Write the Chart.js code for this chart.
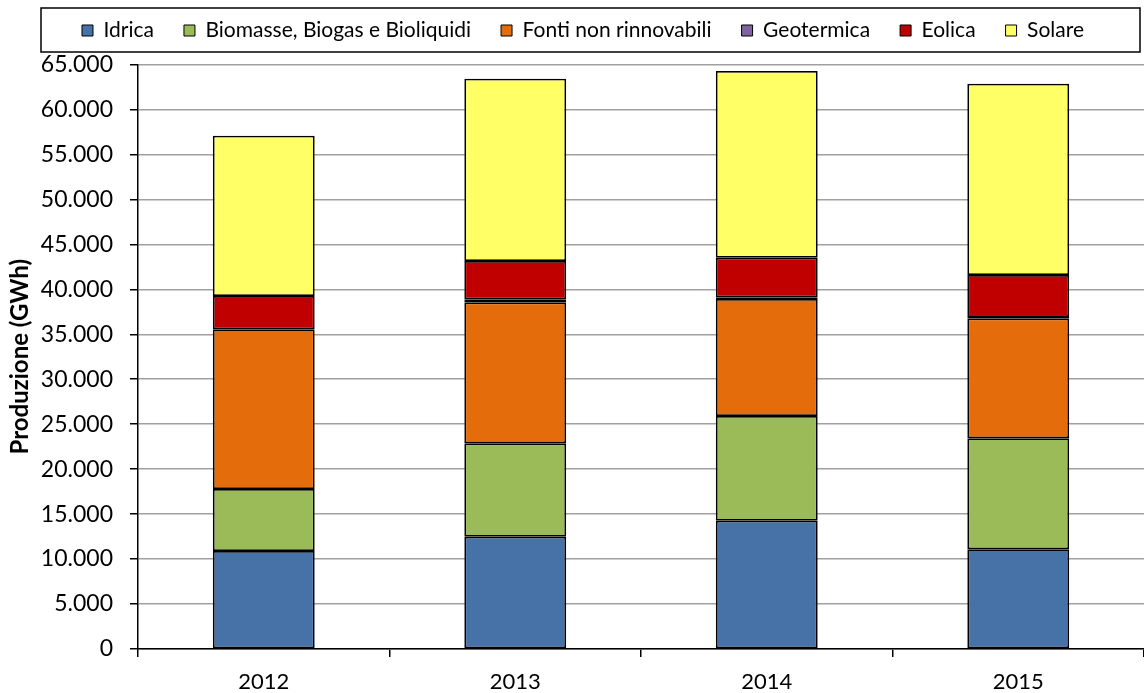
<!DOCTYPE html>
<html>
<head>
<meta charset="utf-8">
<script src="https://cdn.jsdelivr.net/npm/chart.js@4.4.1/dist/chart.umd.min.js"></script>
<style>
  html, body { margin: 0; padding: 0; background: #fff; }
  #wrap { width: 1144px; height: 693px; position: relative; }
</style>
</head>
<body>
<div id="wrap"><canvas id="c"></canvas></div>
<script>
const categories = ['2012', '2013', '2014', '2015'];
const idrica      = [10900, 12490, 14270, 11090];
const biomasse    = [6890, 10380, 11640, 12340];
const fonti       = [17760, 15680, 13010, 13340];
const geotermica  = [0, 300, 150, 150];
const eolica      = [3700, 4300, 4440, 4665];
const solare      = [17830, 20270, 20760, 21270];
const yTicks      = [0, 5000, 10000, 15000, 20000, 25000, 30000, 35000, 40000, 45000, 50000, 55000, 60000, 65000];

const seriesNames  = ['Idrica', 'Biomasse, Biogas e Bioliquidi', 'Fonti non rinnovabili', 'Geotermica', 'Eolica', 'Solare'];
const seriesData   = [idrica, biomasse, fonti, geotermica, eolica, solare];
const seriesColors = ['#4672A8', '#9BBB59', '#E46C0A', '#8064A2', '#C00000', '#FFFF66'];

function fmt(v) { return String(v).replace(/\B(?=(\d{3})+(?!\d))/g, '.'); }

const legendBox = {
  id: 'legendBox',
  afterLayout(chart) {
    const lg = chart.legend;
    lg.top -= 13.5;
    lg.bottom -= 13.5;
    lg.left += 11;
    lg.right += 11;
  },
  afterDraw(chart) {
    const ctx = chart.ctx;
    ctx.save();
    ctx.strokeStyle = '#000';
    ctx.lineWidth = 1.5;
    ctx.strokeRect(41, 8, 1099, 44);
    ctx.restore();
  }
};

new Chart(document.getElementById('c'), {
  type: 'bar',
  data: {
    labels: categories,
    datasets: seriesNames.map((n, i) => ({
      label: n,
      data: seriesData[i],
      backgroundColor: seriesColors[i],
      borderColor: '#000',
      borderWidth: 1.8,
      borderSkipped: false,
      barPercentage: 0.405,
      categoryPercentage: 1.0
    }))
  },
  options: {
    responsive: true,
    maintainAspectRatio: false,
    animation: false,
    devicePixelRatio: 1,
    layout: { padding: { top: 3.5, right: 0, left: 0, bottom: 0 } },
    plugins: {
      tooltip: { enabled: false },
      legend: {
        position: 'top',
        labels: {
          boxWidth: 11,
          boxHeight: 11,
          padding: 30,
          color: '#000',
          font: { family: 'Lato', size: 21 },
          generateLabels(chart) {
            return chart.data.datasets.map((ds, i) => ({
              text: ds.label,
              fillStyle: ds.backgroundColor,
              strokeStyle: '#000',
              lineWidth: 1,
              datasetIndex: i,
              fontColor: '#000'
            }));
          }
        }
      }
    },
    scales: {
      x: {
        stacked: true,
        grid: { offset: true, drawOnChartArea: false, tickLength: 8, tickColor: '#000', lineWidth: 1.5 },
        border: { color: '#000', width: 1.5 },
        ticks: { color: '#000', font: { family: 'Lato', size: 22 }, padding: 12 },
        afterFit(s) { s.height = 44; }
      },
      y: {
        stacked: true,
        min: 0,
        max: 65000,
        afterBuildTicks(s) { s.ticks = yTicks.map(v => ({ value: v })); },
        grid: { color: '#a0a0a0', lineWidth: 1.5, tickLength: 8, tickColor: '#000' },
        border: { color: '#000', width: 1.5 },
        ticks: { color: '#000', font: { family: 'Lato', size: 23 }, padding: 17, callback: v => fmt(v) },
        title: { display: true, text: 'Produzione (GWh)', color: '#000', font: { family: 'Lato', size: 24, weight: 'bold' }, padding: { top: 6, bottom: 0 } },
        afterFit(s) { s.width = 138; }
      }
    }
  },
  plugins: [legendBox]
});
</script>
</body>
</html>
